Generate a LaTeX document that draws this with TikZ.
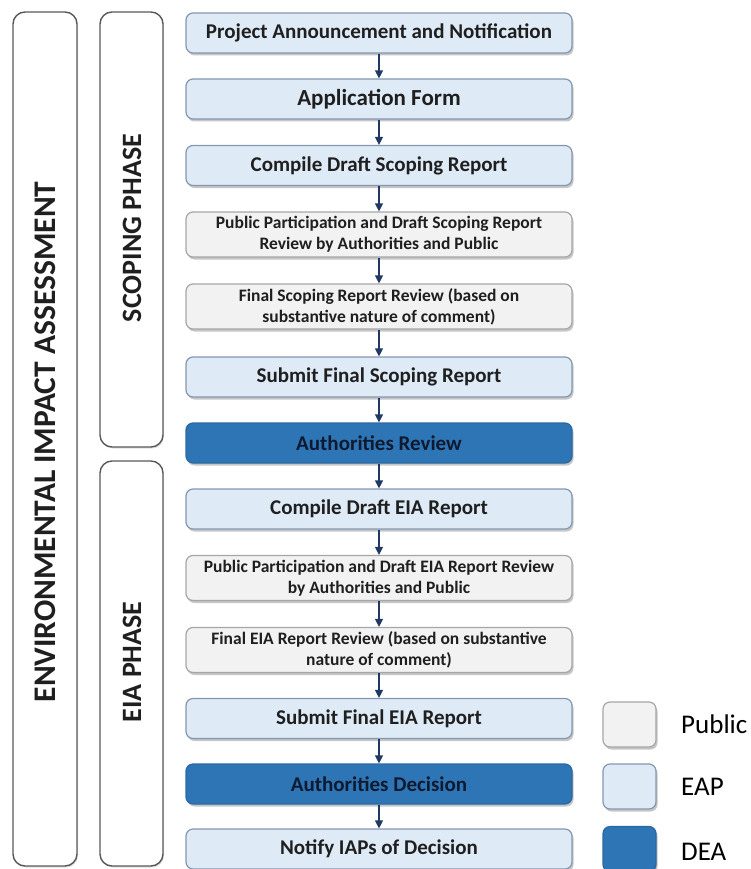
\documentclass[tikz,border=0pt]{standalone}
\usepackage{fontspec}
\setmainfont{Carlito}
\usepackage{tikz}
\usetikzlibrary{arrows.meta}
\usetikzlibrary{shadows}

\definecolor{eapfill}{HTML}{DEEBF7}
\definecolor{eapline}{HTML}{8497B0}
\definecolor{pubfill}{HTML}{F2F2F2}
\definecolor{publine}{HTML}{A6A6A6}
\definecolor{deafill}{HTML}{2E75B6}
\definecolor{dealine}{HTML}{2A68A3}
\definecolor{flowblue}{HTML}{1F3864}
\definecolor{phaseline}{HTML}{595959}
\definecolor{deatext}{HTML}{0E1A30}

\tikzset{
  stage/.style={rounded corners=7pt, line width=1.2pt, inner sep=0pt,
    minimum width=386pt, minimum height=40pt, align=center,
    text=black!88, font=\fontsize{21}{25}\selectfont\bfseries,
    drop shadow={shadow xshift=1.5pt, shadow yshift=-2.5pt, opacity=0.45}},
  eap/.style={stage, fill=eapfill, draw=eapline},
  pub/.style={stage, fill=pubfill, draw=publine, minimum height=45pt,
    font=\fontsize{17.5}{21}\selectfont\bfseries},
  dea/.style={stage, fill=deafill, draw=dealine, text=deatext},
  key/.style={rounded corners=7pt, line width=1.2pt, inner sep=0pt,
    minimum width=53pt, minimum height=45pt,
    drop shadow={shadow xshift=1.5pt, shadow yshift=-2.5pt, opacity=0.45}},
  keytext/.style={anchor=west, inner sep=0pt, font=\fontsize{27}{30}\selectfont},
  phase/.style={rounded corners=12pt, line width=1.4pt, draw=phaseline, fill=white,
    drop shadow={shadow xshift=1pt, shadow yshift=-1.5pt, opacity=0.25}},
  phasetext/.style={rotate=90, inner sep=0pt, text=black!88, font=\bfseries},
  flow/.style={-{Triangle[width=8pt,length=8pt]}, draw=flowblue, line width=1.3pt}
}

\begin{document}
\begin{tikzpicture}[x=1pt,y=-1pt]
  \useasboundingbox (0,0) rectangle (750,869);

  % phase bars
  \draw[phase] (13,12) rectangle (77,866);
  \draw[phase] (100,12) rectangle (163,447);
  \draw[phase] (100,461) rectangle (163,866);
  \node[phasetext, font=\fontsize{31.5}{34}\selectfont\bfseries] (eia) at (45.5,442) {ENVIRONMENTAL IMPACT ASSESSMENT};
  \node[phasetext, font=\fontsize{28}{31}\selectfont\bfseries] (scoping) at (132,228) {SCOPING PHASE};
  \node[phasetext, font=\fontsize{28}{31}\selectfont\bfseries] (eiaphase) at (132,662) {EIA PHASE};

  % process steps
  \node[eap] (n1) at (379,33) {Project Announcement and Notification};
  \node[eap, font=\fontsize{23}{27}\selectfont\bfseries] (n2) at (379,99) {Application Form};
  \node[eap] (n3) at (379,165.5) {Compile Draft Scoping Report};
  \node[pub] (n4) at (379,234.5) {Public Participation and Draft Scoping Report\\Review by Authorities and Public};
  \node[pub] (n5) at (379,306.5) {Final Scoping Report Review (based on\\substantive nature of comment)};
  \node[eap] (n6) at (379,377) {Submit Final Scoping Report};
  \node[dea] (n7) at (379,443) {Authorities Review};
  \node[eap] (n8) at (379,509) {Compile Draft EIA Report};
  \node[pub] (n9) at (379,578) {Public Participation and Draft EIA Report Review\\by Authorities and Public};
  \node[pub] (n10) at (379,650) {Final EIA Report Review (based on substantive\\nature of comment)};
  \node[eap] (n11) at (379,718.5) {Submit Final EIA Report};
  \node[dea] (n12) at (379,784) {Authorities Decision};
  \node[eap] (n13) at (379,849) {Notify IAPs of Decision};

  \foreach \a/\b in {n1/n2,n2/n3,n3/n4,n4/n5,n5/n6,n6/n7,n7/n8,n8/n9,n9/n10,n10/n11,n11/n12,n12/n13}
    \draw[flow] (\a.south) -- (\b.north);

  % legend
  \node[key, fill=pubfill, draw=publine] (kpub) at (629.5,724.5) {};
  \node[key, fill=eapfill, draw=eapline] (keap) at (629.5,786.5) {};
  \node[key, fill=deafill, draw=dealine] (kdea) at (629.5,849) {};
  \node[keytext] (tpub) at (681,724) {Public};
  \node[keytext] (teap) at (681,787) {EAP};
  \node[keytext] (tdea) at (681,852) {DEA};
\end{tikzpicture}
\end{document}
